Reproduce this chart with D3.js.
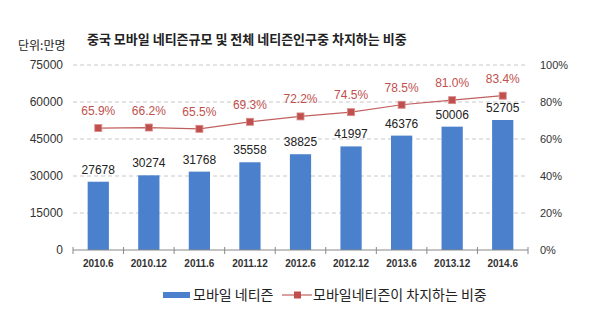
<!DOCTYPE html>
<html>
<head>
<meta charset="utf-8">
<script src="https://cdn.jsdelivr.net/npm/d3@7/dist/d3.min.js"></script>
<style>
  body { margin: 0; background: #fff; }
  svg { display: block; }
</style>
</head>
<body>
<div id="chart"></div>
<script>
const categories = ["2010.6", "2010.12", "2011.6", "2011.12", "2012.6", "2012.12", "2013.6", "2013.12", "2014.6"];
const users = [27678, 30274, 31768, 35558, 38825, 41997, 46376, 50006, 52705];
const shares = [65.9, 66.2, 65.5, 69.3, 72.2, 74.5, 78.5, 81.0, 83.4];
const leftTicks = [0, 15000, 30000, 45000, 60000, 75000];
const rightTicks = [0, 20, 40, 60, 80, 100];

const width = 600;
const height = 313;
const margin = { top: 65, right: 72, bottom: 63, left: 73 };
const innerWidth = width - margin.left - margin.right;
const innerHeight = height - margin.top - margin.bottom;

const numFont = "'Liberation Sans', Arial, sans-serif";
const krFont = "'Noto Sans CJK KR', sans-serif";

const svg = d3.select("#chart").append("svg")
  .attr("width", width)
  .attr("height", height);

// 제목
svg.append("text")
  .attr("x", 18)
  .attr("y", 50)
  .attr("font-family", krFont)
  .attr("font-size", "12px")
  .attr("fill", "#222")
  .text("단위:만명");

svg.append("text")
  .attr("x", 87)
  .attr("y", 44)
  .attr("font-family", krFont)
  .attr("font-size", "13px")
  .attr("font-weight", "bold")
  .attr("fill", "#222")
  .text("중국 모바일 네티즌규모 및 전체 네티즌인구중 차지하는 비중");

const g = svg.append("g")
  .attr("transform", `translate(${margin.left},${margin.top})`);

const x = d3.scaleBand()
  .domain(categories)
  .range([0, innerWidth])
  .paddingInner(0.58)
  .paddingOuter(0.29);

const xBoundary = d3.scaleBand()
  .domain(categories)
  .range([0, innerWidth]);

const yLeft = d3.scaleLinear().domain([0, 75000]).range([innerHeight, 0]);
const yRight = d3.scaleLinear().domain([0, 100]).range([innerHeight, 0]);

// 그리드
g.append("g")
  .selectAll("line")
  .data(leftTicks.slice(1))
  .enter().append("line")
  .attr("x1", 0)
  .attr("x2", innerWidth)
  .attr("y1", d => yLeft(d))
  .attr("y2", d => yLeft(d))
  .attr("stroke", "#c8c8c8")
  .attr("stroke-dasharray", "4,3");

// 왼쪽 축
const leftAxis = g.append("g")
  .call(d3.axisLeft(yLeft).tickValues(leftTicks).tickSize(0).tickPadding(10).tickFormat(d3.format("d")));
leftAxis.select(".domain").remove();
leftAxis.selectAll("text")
  .style("font-family", numFont)
  .style("font-size", "12px")
  .style("fill", "#333");

// 오른쪽 축
const rightAxis = g.append("g")
  .attr("transform", `translate(${innerWidth},0)`)
  .call(d3.axisRight(yRight).tickValues(rightTicks).tickSize(0).tickPadding(12).tickFormat(d => d + "%"));
rightAxis.select(".domain").remove();
rightAxis.selectAll("text")
  .style("font-family", numFont)
  .style("font-size", "11px")
  .style("fill", "#333");

// 막대
g.selectAll("rect.bar")
  .data(users)
  .enter().append("rect")
  .attr("class", "bar")
  .attr("x", (d, i) => x(categories[i]))
  .attr("y", d => yLeft(d))
  .attr("width", x.bandwidth())
  .attr("height", d => innerHeight - yLeft(d))
  .attr("fill", "#4a80cc");

g.selectAll("text.bar-label")
  .data(users)
  .enter().append("text")
  .attr("class", "bar-label")
  .attr("x", (d, i) => x(categories[i]) + x.bandwidth() / 2)
  .attr("y", d => yLeft(d) - 8)
  .attr("text-anchor", "middle")
  .attr("font-family", numFont)
  .attr("font-size", "12px")
  .attr("fill", "#222")
  .text(d => d);

// x축
const xAxis = g.append("g")
  .attr("transform", `translate(0,${innerHeight})`);
xAxis.append("line")
  .attr("x1", 0).attr("x2", innerWidth)
  .attr("stroke", "#888");
xAxis.selectAll("line.tick")
  .data(categories.concat(["end"]))
  .enter().append("line")
  .attr("class", "tick")
  .attr("x1", (d, i) => i < categories.length ? xBoundary(d) : innerWidth)
  .attr("x2", (d, i) => i < categories.length ? xBoundary(d) : innerWidth)
  .attr("y1", -3).attr("y2", 4)
  .attr("stroke", "#888");
xAxis.selectAll("text")
  .data(categories)
  .enter().append("text")
  .attr("x", d => xBoundary(d) + xBoundary.bandwidth() / 2)
  .attr("y", 17)
  .attr("text-anchor", "middle")
  .attr("font-family", numFont)
  .attr("font-size", "10px")
  .attr("font-weight", "bold")
  .attr("fill", "#333")
  .text(d => d);

// 비중 선
const line = d3.line()
  .x((d, i) => x(categories[i]) + x.bandwidth() / 2)
  .y(d => yRight(d));

g.append("path")
  .datum(shares)
  .attr("d", line)
  .attr("fill", "none")
  .attr("stroke", "#c0605e")
  .attr("stroke-width", 1.2);

g.selectAll("rect.marker")
  .data(shares)
  .enter().append("rect")
  .attr("class", "marker")
  .attr("x", (d, i) => x(categories[i]) + x.bandwidth() / 2 - 3.5)
  .attr("y", d => yRight(d) - 3.5)
  .attr("width", 7)
  .attr("height", 7)
  .attr("fill", "#c0504d")
  .attr("stroke", "#d88a88")
  .attr("stroke-width", 0.8);

g.selectAll("text.share-label")
  .data(shares)
  .enter().append("text")
  .attr("class", "share-label")
  .attr("x", (d, i) => x(categories[i]) + x.bandwidth() / 2)
  .attr("y", d => yRight(d) - 13)
  .attr("text-anchor", "middle")
  .attr("font-family", numFont)
  .attr("font-size", "12px")
  .attr("fill", "#c0504d")
  .text(d => d.toFixed(1) + "%");

// 범례
const legend = svg.append("g")
  .attr("transform", "translate(163,295)");

legend.append("rect")
  .attr("x", 0).attr("y", -3)
  .attr("width", 27).attr("height", 6)
  .attr("fill", "#4a80cc");

legend.append("text")
  .attr("x", 30).attr("y", 5)
  .attr("font-family", krFont)
  .attr("font-size", "14px")
  .attr("fill", "#222")
  .text("모바일 네티즌");

legend.append("line")
  .attr("x1", 119).attr("x2", 149)
  .attr("y1", 0).attr("y2", 0)
  .attr("stroke", "#c0605e")
  .attr("stroke-width", 1.2);

legend.append("rect")
  .attr("x", 131).attr("y", -3.5)
  .attr("width", 7).attr("height", 7)
  .attr("fill", "#c0504d");

legend.append("text")
  .attr("x", 150).attr("y", 5)
  .attr("font-family", krFont)
  .attr("font-size", "14px")
  .attr("fill", "#222")
  .text("모바일네티즌이 차지하는 비중");
</script>
</body>
</html>
